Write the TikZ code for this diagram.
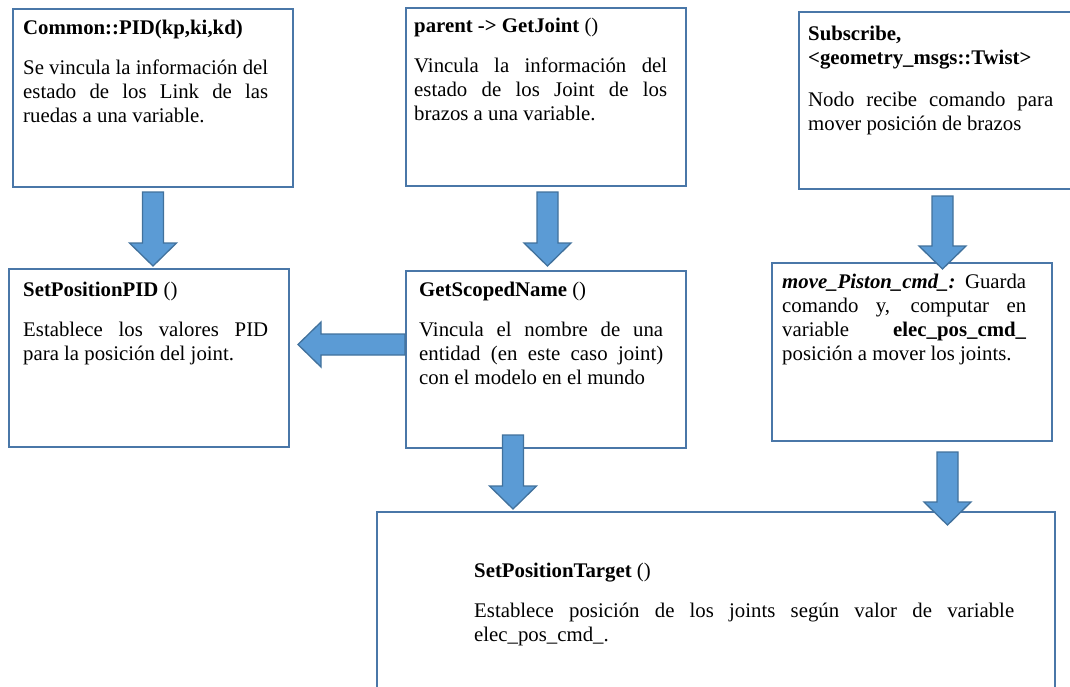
\documentclass[tikz,border=0pt]{standalone}
\usepackage{fontspec}
\setmainfont{Liberation Serif}
\usetikzlibrary{calc}
\setlength\parindent{0pt}

\definecolor{boxline}{HTML}{4A77A8}
\definecolor{arrowfill}{HTML}{5B9BD5}
\definecolor{arrowline}{HTML}{41719C}

% block arrow pointing down: #1 = top of the shaft, #2 = tip
\newcommand\downblock[2]{%
  \draw[blockarrow] ($(#1)+(-10.5,0)$) -- ($(#2)+(-10.5,-23)$) -- ($(#2)+(-23.5,-23)$)
    -- (#2) -- ($(#2)+(23.5,-23)$) -- ($(#2)+(10.5,-23)$) -- ($(#1)+(10.5,0)$) -- cycle;}
% block arrow pointing left: #1 = tail of the shaft, #2 = tip
\newcommand\leftblock[2]{%
  \draw[blockarrow] ($(#1)+(0,-10.5)$) -- ($(#2)+(23,-10.5)$) -- ($(#2)+(23,-22.5)$)
    -- (#2) -- ($(#2)+(23,22.5)$) -- ($(#2)+(23,10.5)$) -- ($(#1)+(0,10.5)$) -- cycle;}

\begin{document}
\begin{tikzpicture}[x=1pt,y=-1pt,
  box/.style={draw=boxline, line width=2pt, fill=white, inner sep=0pt, rectangle},
  txt/.style={anchor=north west, inner sep=0pt, align=justify,
    font=\rmfamily\fontsize{20.8}{24}\selectfont},
  blockarrow/.style={fill=arrowfill, draw=arrowline, line width=1.3pt, line join=miter}]
\useasboundingbox (0,0) rectangle (1070,686);
\clip (0,0) rectangle (1070,686);

% boxes
\node[box, minimum width=280pt, minimum height=178pt] (A) at (153,98) {};
\node[box, minimum width=280pt, minimum height=178pt] (B) at (546,97) {};
\node[box, minimum width=286pt, minimum height=177pt] (C) at (942,100.5) {};
\node[box, minimum width=280pt, minimum height=178pt] (D) at (149,358) {};
\node[box, minimum width=280pt, minimum height=177pt] (E) at (546,359.5) {};
\node[box, minimum width=280pt, minimum height=178pt] (F) at (912,352) {};
\node[box, minimum width=678pt, minimum height=190pt] (G) at (716,607) {};

% texts
\node[txt, text width=245pt] (A-t) at (23,15)
  {\rule{0pt}{19pt}\textbf{Common::PID(kp,ki,kd)}\par\vspace{16pt}
   Se vincula la información del\linebreak estado de los Link de las\linebreak ruedas a una variable.};
\node[txt, text width=253pt] (B-t) at (414,13)
  {\rule{0pt}{19pt}\textbf{parent -> GetJoint} ()\par\vspace{16pt}
   Vincula la información del\linebreak estado de los Joint de los\linebreak brazos a una variable.};
\node[txt, text width=245pt] (C-t) at (808,21)
  {\rule{0pt}{19pt}\textbf{Subscribe,}\newline\textbf{<geometry\_msgs::Twist>}\par\vspace{18pt}
   Nodo recibe comando para\linebreak mover posición de brazos};
\node[txt, text width=245pt] (D-t) at (23,277)
  {\rule{0pt}{19pt}\textbf{SetPositionPID} ()\par\vspace{16pt}
   Establece los valores PID\linebreak para la posición del joint.};
\node[txt, text width=244pt] (E-t) at (419,277)
  {\rule{0pt}{19pt}\textbf{GetScopedName} ()\par\vspace{16pt}
   Vincula el nombre de una\linebreak entidad (en este caso joint)\linebreak con el modelo en el mundo};
\node[txt, text width=244pt] (F-t) at (782,269)
  {\rule{0pt}{19pt}\textbf{\textit{move\_Piston\_cmd\_:}} Guarda\linebreak comando y, computar en\linebreak
   variable \textbf{elec\_pos\_cmd\_}\linebreak posición a mover los joints.};
\node[txt, text width=540pt] (G-t) at (474,558)
  {\rule{0pt}{19pt}\textbf{SetPositionTarget} ()\par\vspace{16pt}
   Establece posición de los joints según valor de variable\linebreak elec\_pos\_cmd\_.};

% connectors
\coordinate (AD-s) at ($(A.south)+(0,4)$);
\coordinate (AD-t) at ($(A.south)+(0,78)$);
\downblock{AD-s}{AD-t}
\coordinate (BE-s) at ($(B.south)+(1.5,5)$);
\coordinate (BE-t) at ($(B.south)+(1.5,79)$);
\downblock{BE-s}{BE-t}
\coordinate (CF-s) at ($(C.south)+(0.5,6)$);
\coordinate (CF-t) at ($(C.south)+(0.5,79)$);
\downblock{CF-s}{CF-t}
\coordinate (EG-s) at (513,435);
\coordinate (EG-t) at (513,509);
\downblock{EG-s}{EG-t}
\coordinate (FG-s) at (947.5,452);
\coordinate (FG-t) at (947.5,525);
\downblock{FG-s}{FG-t}
\coordinate (ED-s) at ($(E.west)+(0,-15)$);
\coordinate (ED-t) at ($(D.east)+(8,-13.5)$);
\leftblock{ED-s}{ED-t}
\end{tikzpicture}
\end{document}
